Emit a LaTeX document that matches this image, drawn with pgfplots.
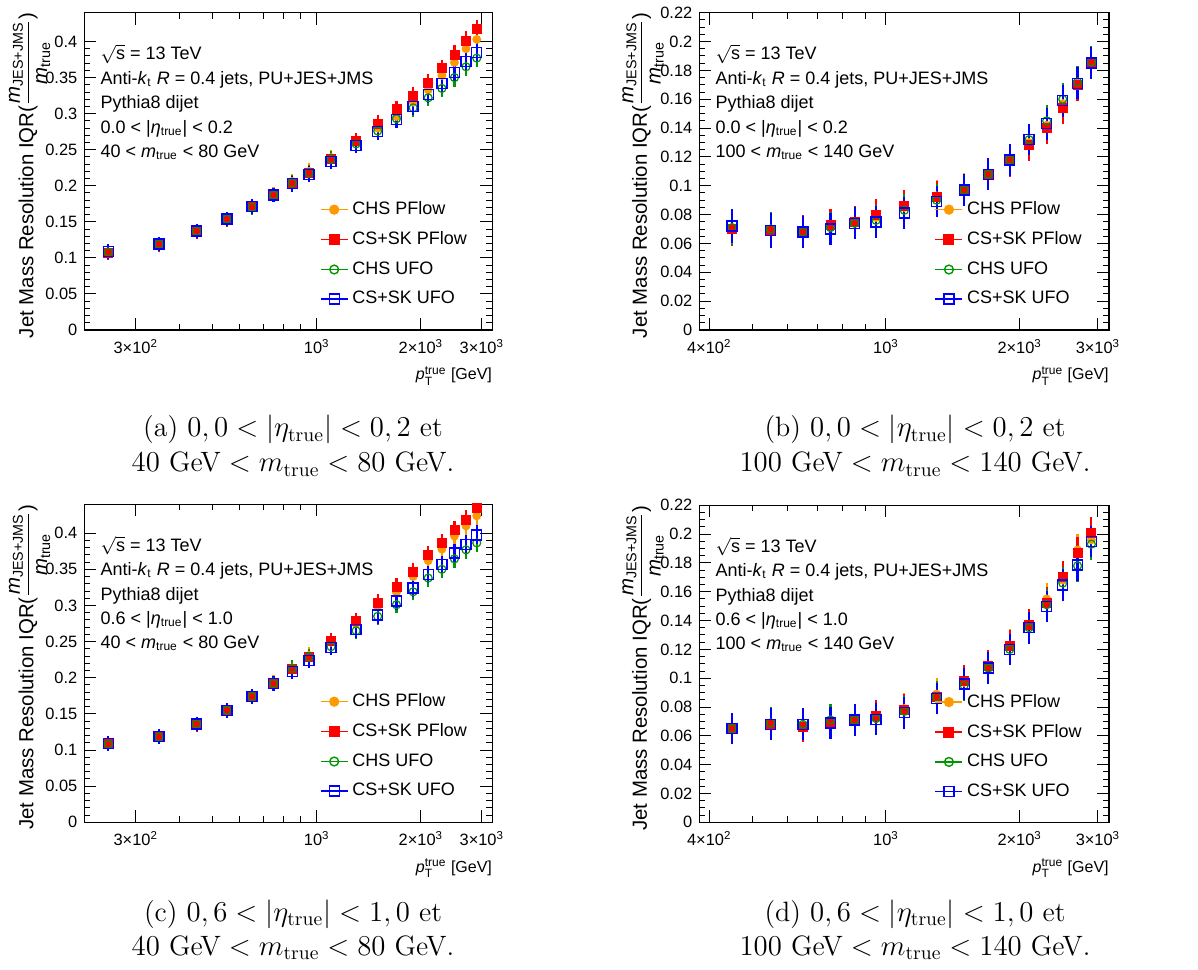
\documentclass[border=0pt]{standalone}
\usepackage{amsmath}
\usepackage{fontspec}
\usepackage{pgfplots}
\usepackage{pgfplotstable}
\pgfplotsset{compat=1.18}
\newfontfamily\arial{Liberation Sans}

\definecolor{corange}{RGB}{255,153,0}
\definecolor{cred}{RGB}{255,0,0}
\definecolor{cgreen}{RGB}{0,150,0}
\definecolor{cblue}{RGB}{0,0,255}

\pgfplotstableread{
pt o r g b e
250 0.108 0.107 0.108 0.109 0.010
350 0.118 0.118 0.119 0.119 0.010
450 0.136 0.136 0.137 0.137 0.010
550 0.153 0.153 0.154 0.154 0.010
650 0.171 0.170 0.170 0.171 0.010
750 0.188 0.187 0.187 0.187 0.010
850 0.206 0.204 0.204 0.203 0.011
950 0.220 0.218 0.218 0.216 0.011
1100 0.239 0.237 0.237 0.234 0.011
1300 0.262 0.262 0.258 0.256 0.011
1500 0.280 0.2855 0.276 0.275 0.012
1700 0.296 0.306 0.293 0.292 0.012
1900 0.316 0.325 0.308 0.310 0.012
2100 0.333 0.343 0.322 0.3265 0.012
2300 0.353 0.363 0.335 0.342 0.012
2500 0.371 0.382 0.350 0.357 0.013
2700 0.390 0.401 0.365 0.372 0.013
2900 0.403 0.4175 0.377 0.385 0.013
}\tabA

\pgfplotstableread{
pt o r g b e
450 0.071 0.070 0.071 0.072 0.012
550 0.070 0.069 0.070 0.069 0.012
650 0.069 0.0686 0.068 0.068 0.011
750 0.072 0.0728 0.071 0.070 0.011
850 0.075 0.075 0.074 0.074 0.011
950 0.078 0.080 0.076 0.075 0.011
1100 0.085 0.086 0.083 0.081 0.011
1300 0.093 0.092 0.090 0.089 0.011
1500 0.098 0.0975 0.097 0.097 0.011
1700 0.108 0.108 0.108 0.108 0.011
1900 0.118 0.117 0.118 0.118 0.011
2100 0.130 0.128 0.132 0.132 0.011
2300 0.142 0.140 0.145 0.143 0.011
2500 0.157 0.154 0.160 0.159 0.011
2700 0.171 0.170 0.172 0.171 0.011
2900 0.185 0.185 0.186 0.185 0.011
}\tabB

\pgfplotstableread{
pt o r g b e
250 0.108 0.108 0.108 0.109 0.010
350 0.118 0.118 0.118 0.119 0.010
450 0.135 0.135 0.136 0.136 0.010
550 0.155 0.155 0.155 0.155 0.010
650 0.175 0.174 0.174 0.174 0.010
750 0.194 0.193 0.192 0.192 0.010
850 0.214 0.212 0.213 0.209 0.011
950 0.231 0.229 0.229 0.224 0.011
1100 0.249 0.251 0.243 0.242 0.011
1300 0.275 0.279 0.265 0.2665 0.011
1500 0.298 0.3035 0.285 0.287 0.012
1700 0.318 0.3256 0.301 0.306 0.012
1900 0.340 0.347 0.319 0.324 0.012
2100 0.362 0.370 0.338 0.343 0.012
2300 0.378 0.3866 0.350 0.3566 0.012
2500 0.396 0.404 0.3645 0.3727 0.013
2700 0.410 0.419 0.377 0.3843 0.013
2900 0.424 0.435 0.3866 0.3977 0.013
}\tabC

\pgfplotstableread{
pt o r g b e
450 0.065 0.065 0.065 0.065 0.011
550 0.068 0.068 0.069 0.068 0.011
650 0.067 0.0664 0.068 0.068 0.011
750 0.070 0.069 0.071 0.069 0.011
850 0.071 0.071 0.071 0.071 0.011
950 0.074 0.0738 0.072 0.0715 0.011
1100 0.079 0.078 0.077 0.076 0.011
1300 0.089 0.0867 0.087 0.086 0.011
1500 0.097 0.098 0.095 0.096 0.011
1700 0.108 0.1085 0.107 0.107 0.011
1900 0.123 0.1226 0.120 0.120 0.011
2100 0.137 0.137 0.135 0.135 0.011
2300 0.155 0.1524 0.151 0.1497 0.011
2500 0.168 0.170 0.166 0.1647 0.011
2700 0.189 0.1867 0.178 0.1786 0.011
2900 0.196 0.201 0.193 0.1948 0.011
}\tabD

\newcommand{\rfont}{\arial\fontsize{9}{10}\selectfont}
\newcommand{\sx}[1]{\textsuperscript{#1}}

\pgfplotsset{legend image code/.code={%
  \draw[mark repeat=2,mark phase=2,#1] plot coordinates {(0pt,0pt) (6.75pt,0pt) (13.5pt,0pt)};}}

\pgfplotsset{
  rootaxis/.style={
    scale only axis, ymin=0,
    tick align=inside,
    major tick length=6pt, minor tick length=3pt,
    every tick/.style={black, line width=0.5pt},
    axis line style={line width=0.8pt},
    tick label style={font=\arial\fontsize{8.2}{9}\selectfont},
    xticklabel style={inner sep=1pt, yshift=-3.5pt},
    /pgf/number format/assume math mode=true,
    yticklabel style={/pgf/number format/fixed, /pgf/number format/precision=2},
    xlabel={\textit{p}$_{\text{T}}^{\text{true}}$ [GeV]},
    ylabel={Jet Mass Resolution IQR($\dfrac{\textit{m}_{\text{JES+JMS}}}{\textit{m}_{\text{true}}}$)},
    xlabel style={font=\arial\fontsize{8}{9}\selectfont, at={(axis description cs:1,0)}, anchor=north east, inner sep=0pt, yshift=-18pt},
    legend style={draw=none, fill=none, font=\rfont, anchor=north west, row sep=3pt},
    legend cell align=left,
  },
  ebar/.style={error bars/y dir=both, error bars/y explicit, error bars/error mark=none,
    error bars/error bar style={line width=1.1pt}},
  sO/.style={forget plot, only marks, color=corange, mark=*, mark size=2pt, mark options={fill=corange}, ebar},
  sR/.style={forget plot, only marks, color=cred, mark=square*, mark size=2.25pt, mark options={fill=cred}, ebar},
  sG/.style={forget plot, only marks, color=cgreen, mark=o, mark size=2pt, mark options={line width=0.6pt}, ebar},
  sB/.style={forget plot, only marks, color=cblue, mark=square, mark size=2.5pt, mark options={line width=0.7pt}, ebar},
  lowaxis/.style={xmin=213, xmax=3217, ymax=0.44,
    xtick={300,1000,2000,3000},
    xticklabels={3×10\sx{2},10\sx{3},2×10\sx{3},3×10\sx{3}},
    minor xtick={400,500,600,700,800,900},
    ytick={0,0.05,0.1,0.15,0.2,0.25,0.3,0.35,0.4}, minor y tick num=4,
    width=204pt,
    ylabel style={font=\arial\fontsize{10.2}{11}\selectfont, at={(axis description cs:-0.125,1)}, anchor=base east, inner sep=0pt},
    legend style={at={(axis description cs:0.562,0.431)}}},
  highaxis/.style={xmin=380, xmax=3178, ymax=0.22,
    xtick={400,1000,2000,3000},
    xticklabels={4×10\sx{2},10\sx{3},2×10\sx{3},3×10\sx{3}},
    minor xtick={500,600,700,800,900},
    ytick={0,0.02,0.04,0.06,0.08,0.1,0.12,0.14,0.16,0.18,0.2,0.22}, minor y tick num=3,
    width=204.85pt,
    ylabel style={font=\arial\fontsize{10.2}{11}\selectfont, at={(axis description cs:-0.128,1)}, anchor=base east, inner sep=0pt},
    legend style={at={(axis description cs:0.559,0.431)}}},
}

\newcommand{\annot}[2]{%
  \node[anchor=base west, inner sep=0pt, font=\rfont] at ([xshift=8pt,yshift=-23.6pt]rel axis cs:0,1) {$\sqrt{\mbox{s}}$ = 13 TeV};
  \node[anchor=base west, inner sep=0pt, font=\rfont] at ([xshift=8pt,yshift=-35.8pt]rel axis cs:0,1) {Anti-\textit{k}$_{\text{t}}$ \textit{R} = 0.4 jets, PU+JES+JMS};
  \node[anchor=base west, inner sep=0pt, font=\rfont] at ([xshift=8pt,yshift=-48pt]rel axis cs:0,1) {Pythia8 dijet};
  \node[anchor=base west, inner sep=0pt, font=\rfont] at ([xshift=8pt,yshift=-60.2pt]rel axis cs:0,1) {#1 < |\textit{η}$_{\text{true}}$| < #2};
}
\newcommand{\mannot}[2]{%
  \node[anchor=base west, inner sep=0pt, font=\rfont] at ([xshift=8pt,yshift=-72.3pt]rel axis cs:0,1) {#1 < \textit{m}$_{\text{true}}$ < #2 GeV};
}

\newcommand{\fourplots}[1]{%
  \addplot[sO] table[x=pt, y=o, y error=e] {#1};
  \addplot[sR] table[x=pt, y=r, y error=e] {#1};
  \addplot[sG] table[x=pt, y=g, y error=e] {#1};
  \addplot[sB] table[x=pt, y=b, y error=e] {#1};
  \addlegendimage{color=corange, mark=*, mark size=2.2pt, mark options={fill=corange}, line width=0.7pt}
  \addlegendentry{CHS PFlow}
  \addlegendimage{color=cred, mark=square*, mark size=2.4pt, mark options={fill=cred}, line width=0.7pt}
  \addlegendentry{CS+SK PFlow}
  \addlegendimage{color=cgreen, mark=o, mark size=2.2pt, line width=0.7pt}
  \addlegendentry{CHS UFO}
  \addlegendimage{color=cblue, mark=square, mark size=2.5pt, line width=0.7pt}
  \addlegendentry{CS+SK UFO}
}

\begin{document}
\begin{tikzpicture}
% (a)
\begin{semilogxaxis}[rootaxis, lowaxis, at={(42.15pt,319.5pt)}, anchor=south west, height=158.65pt]
\fourplots{\tabA}
\annot{0.0}{0.2}
\mannot{40}{80}
\end{semilogxaxis}
% (b)
\begin{semilogxaxis}[rootaxis, highaxis, at={(349.65pt,319.5pt)}, anchor=south west, height=158.65pt]
\fourplots{\tabB}
\annot{0.0}{0.2}
\mannot{100}{140}
\end{semilogxaxis}
% (c)
\begin{semilogxaxis}[rootaxis, lowaxis, at={(42.15pt,73.35pt)}, anchor=south west, height=159pt]
\fourplots{\tabC}
\annot{0.6}{1.0}
\mannot{40}{80}
\end{semilogxaxis}
% (d)
\begin{semilogxaxis}[rootaxis, highaxis, at={(349.65pt,73.35pt)}, anchor=south west, height=158.5pt]
\fourplots{\tabD}
\annot{0.6}{1.0}
\mannot{100}{140}
\end{semilogxaxis}

\begin{scope}[every node/.style={inner sep=0pt, anchor=base, font=\fontsize{14}{17.5}\selectfont}]
\node at (146.5pt,266pt) {(a) $0,0<|\eta_{\text{true}}|<0,2$ et};
\node at (146.5pt,248.5pt) {$40~\text{GeV}<m_{\text{true}}<80~\text{GeV}$.};
\node at (457.5pt,266pt) {(b) $0,0<|\eta_{\text{true}}|<0,2$ et};
\node at (457.5pt,248.5pt) {$100~\text{GeV}<m_{\text{true}}<140~\text{GeV}$.};
\node at (146.5pt,24pt) {(c) $0,6<|\eta_{\text{true}}|<1,0$ et};
\node at (146.5pt,7pt) {$40~\text{GeV}<m_{\text{true}}<80~\text{GeV}$.};
\node at (457.5pt,24pt) {(d) $0,6<|\eta_{\text{true}}|<1,0$ et};
\node at (457.5pt,7pt) {$100~\text{GeV}<m_{\text{true}}<140~\text{GeV}$.};
\end{scope}

\pgfresetboundingbox
\path[use as bounding box] (0pt,0pt) rectangle (599pt,484.5pt);
\end{tikzpicture}
\end{document}
